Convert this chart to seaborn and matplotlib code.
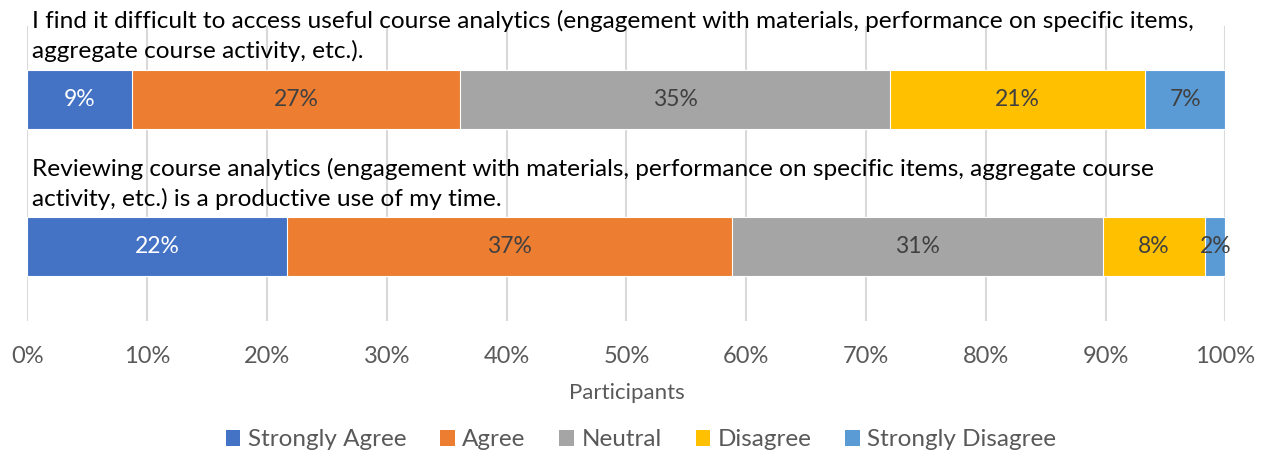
import matplotlib
matplotlib.use("Agg")
import matplotlib.pyplot as plt
from matplotlib.patches import Patch
import seaborn as sns
import pandas as pd
import numpy as np

# ---- data ----
responses = ["Strongly Agree", "Agree", "Neutral", "Disagree", "Strongly Disagree"]
colors = ["#4472C4", "#ED7D31", "#A5A5A5", "#FFC000", "#5B9BD5"]
label_colors = ["white", "#404040", "#404040", "#404040", "#404040"]
question_ids = ["Q1", "Q2"]
question_lines = [
    ["I find it difficult to access useful course analytics (engagement with materials, performance on specific items,",
     "aggregate course activity, etc.)."],
    ["Reviewing course analytics (engagement with materials, performance on specific items, aggregate course",
     "activity, etc.) is a productive use of my time."],
]
q1_values = [8.7, 27.4, 35.9, 21.3, 6.7]
q2_values = [21.7, 37.1, 31.0, 8.5, 1.7]
q1_labels = ["9%", "27%", "35%", "21%", "7%"]
q2_labels = ["22%", "37%", "31%", "8%", "2%"]
xticks = [0, 10, 20, 30, 40, 50, 60, 70, 80, 90, 100]
xlabel = "Participants"

# ---- build table ----
rows = []
for qid, vals, labs in [("Q1", q1_values, q1_labels), ("Q2", q2_values, q2_labels)]:
    cum = np.cumsum(vals)
    for r, v, c, lab in zip(responses, vals, cum, labs):
        rows.append(dict(question=qid, response=r, value=v, end=c, start=c - v, label=lab))
df = pd.DataFrame(rows)

sns.set_style("white")
plt.rcParams["font.family"] = ["Lato", "DejaVu Sans"]

fig = plt.figure(figsize=(12.66, 4.57), dpi=100)
ax = fig.add_axes([0.02172, 0.2982, 0.9462, 0.6456])

# draw stacked bars: longest cumulative first
for r, col in reversed(list(zip(responses, colors))):
    sub = df[df.response == r]
    sns.barplot(data=sub, x="end", y="question", order=question_ids, orient="h",
                color=col, width=0.4, edgecolor="white", linewidth=0.8,
                saturation=1, ax=ax)

# segment labels
for _, row in df.iterrows():
    yi = question_ids.index(row.question)
    ri = responses.index(row.response)
    ax.text((row.start + row.end) / 2, yi, row.label, ha="center", va="center",
            fontsize=16.5, color=label_colors[ri])

# question texts above bars
for yi, lines in enumerate(question_lines):
    n = len(lines)
    for li, line in enumerate(lines):
        off = 8.5 + (n - 1 - li) * 21.5
        ax.annotate(line, xy=(0, yi - 0.2), xycoords=("axes fraction", "data"),
                    xytext=(3.0, off), textcoords="offset points",
                    ha="left", va="baseline", fontsize=17.6, color="black")

ax.set_xlim(0, 100)
ax.set_ylim(1.5, -0.5)
ax.set_xticks(xticks)
ax.set_xticklabels([f"{t}%" for t in xticks])
ax.tick_params(axis="x", length=0, pad=18.5, labelsize=17, labelcolor="#595959")
ax.set_yticks([])
ax.set_ylabel("")
ax.set_xlabel(xlabel, fontsize=16, color="#595959", labelpad=11)
ax.grid(axis="x", color="#D9D9D9", linewidth=1.5)
ax.set_axisbelow(True)
for s in ax.spines.values():
    s.set_visible(False)

handles = [Patch(facecolor=c, edgecolor="none") for c in colors]
fig.legend(handles, responses, loc="center", bbox_to_anchor=(641 / 1266, 1 - 440 / 457),
           ncol=5, frameon=False, fontsize=17.5, handlelength=0.6, handleheight=0.6,
           handletextpad=0.3, columnspacing=1.4, labelcolor="#595959")

fig.savefig("out.png", dpi=100)
